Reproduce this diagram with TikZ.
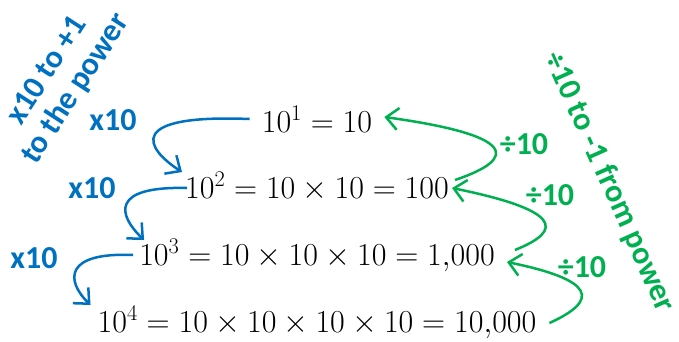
\RequirePackage{fix-cm}
\documentclass[tikz,border=0pt]{standalone}
\usepackage{fontspec}
\newfontfamily\lblfont{Carlito}
\usetikzlibrary{arrows.meta}
\definecolor{mulblue}{HTML}{0070C0}
\definecolor{divgreen}{HTML}{00B050}
\tikzset{
  rowtxt/.style={anchor=base, inner sep=0pt, font=\fontsize{32}{38}\selectfont},
  mullbl/.style={text=mulblue, inner sep=0pt, font=\lblfont\bfseries\fontsize{32}{34}\selectfont},
  divlbl/.style={mullbl, text=divgreen},
  mularrow/.style={draw=mulblue, line width=2.5pt, -{Straight Barb[length=12pt,width=22pt]}},
  divarrow/.style={mularrow, draw=divgreen},
}
\begin{document}
\begin{tikzpicture}[x=1pt, y=-1pt]
\useasboundingbox (0,0) rectangle (679,341);
% powers of ten
\node[rowtxt] (r1) at (317,132) {$10^1=10$};
\node[rowtxt] (r2) at (317,198) {$10^2=10\times10=100$};
\node[rowtxt] (r3) at (317,265) {$10^3=10\times10\times10=1{,}000$};
\node[rowtxt] (r4) at (317,332) {$10^4=10\times10\times10\times10=10{,}000$};
% multiply down the list
\draw[mularrow] ([shift={(-12,-13)}]r1.base west) .. controls (125,114) and (145,148) .. ([shift={(-3,-26)}]r2.base west);
\draw[mularrow] ([shift={(2,-10)}]r2.base west) .. controls (110,186) and (118,215) .. ([shift={(5,-25)}]r3.base west);
\draw[mularrow] ([shift={(-6,-10)}]r3.base west) .. controls (65,252) and (65,280) .. ([shift={(-7,-27)}]r4.base west);
\node[mullbl] (m1) at (113,120) {x10};
\node[mullbl] (m2) at (92,188) {x10};
\node[mullbl] (m3) at (34,258) {x10};
\node[mullbl, rotate=57, align=center] (mt) at (62,80) {x10 to +1\\to the power};
% divide up the list
\draw[divarrow] ([shift={(6,-18)}]r2.base east) .. controls (520,158) and (515,135) .. ([shift={(12,-15)}]r1.base east);
\draw[divarrow] ([shift={(20,-15)}]r3.base east) .. controls (565,230) and (560,210) .. ([shift={(3,-10)}]r2.base east);
\draw[divarrow] ([shift={(13,-9)}]r4.base east) .. controls (600,300) and (595,280) .. ([shift={(12,-3)}]r3.base east);
\node[divlbl] (d1) at (524,144) {÷10};
\node[divlbl] (d2) at (550,195) {÷10};
\node[divlbl] (d3) at (582,267) {÷10};
\node[divlbl, rotate=-66] (dt) at (609,182) {÷10 to -1 from power};
\end{tikzpicture}
\end{document}
